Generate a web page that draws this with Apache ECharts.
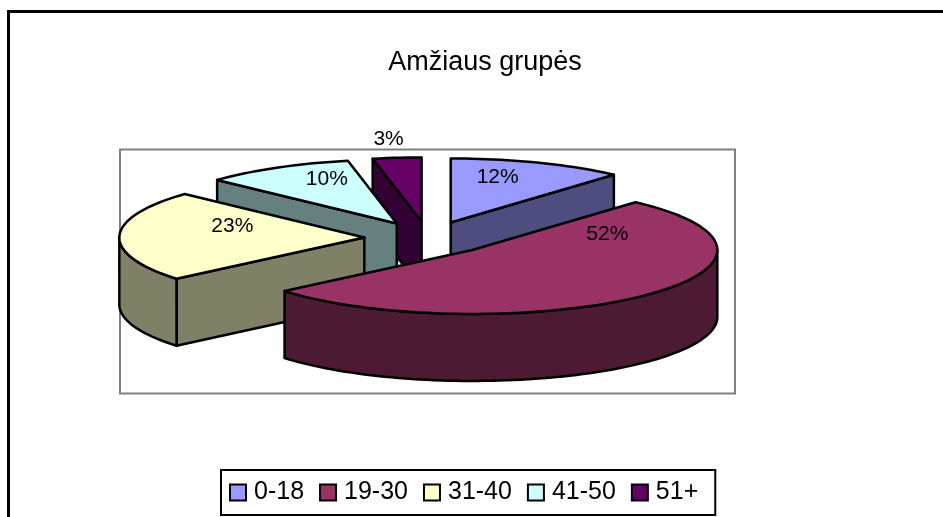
<!DOCTYPE html>
<html style="height: 100%">
<head>
    <meta charset="utf-8">
    <title>Amžiaus grupės</title>
    <script src="https://cdn.jsdelivr.net/npm/echarts@6/dist/echarts.min.js"></script>
</head>
<body style="height: 100%; margin: 0; background: #fff">
<div id="chart1" style="width: 943px; height: 517px"></div>

<script type="text/javascript">
    // data
    var chartTitle = 'Amžiaus grupės';
    var categories = ['0-18', '19-30', '31-40', '41-50', '51+'];
    var shares = [11.6, 52.3, 23.0, 9.9, 3.2];
    var topColors = ['#9999FF', '#993366', '#FFFFCC', '#CCFFFF', '#660066'];
    var sideColors = ['#4D4D80', '#4D1A33', '#808066', '#668080', '#330033'];

    // fake 3d pie geometry, echarts has no 3d pie without gl
    var cx = 428, cy = 238, rx = 245, ry = 64, depth = 67, explode = 0.26;
    // label offset from the tip of each slice
    var labelOffsets = [[47, -45], [135, -16], [-132, -11], [-70, -44], [-33, -82]];

    var total = shares.reduce(function (a, b) { return a + b; }, 0);
    var slices = [];
    var sum = 0;
    shares.forEach(function (v, i) {
        var t0 = sum / total * Math.PI * 2;
        sum += v;
        var t1 = sum / total * Math.PI * 2;
        var mid = (t0 + t1) / 2;
        slices.push({
            index: i, t0: t0, t1: t1, mid: mid,
            x: cx + explode * rx * Math.sin(mid),
            y: cy - explode * ry * Math.cos(mid)
        });
    });

    function rim(s, t, drop) {
        return [s.x + rx * Math.sin(t), s.y - ry * Math.cos(t) + drop];
    }

    function arc(s, a, b, drop) {
        var pts = [];
        var n = Math.max(2, Math.ceil((b - a) / 0.03));
        for (var k = 0; k <= n; k++) {
            pts.push(rim(s, a + (b - a) * k / n, drop));
        }
        return pts;
    }

    function poly(points, color) {
        return {
            type: 'polygon',
            shape: {points: points},
            style: {fill: color, stroke: '#000', lineWidth: 2.5, lineJoin: 'round'}
        };
    }

    function wall(s, t, color) {
        return poly([[s.x, s.y], rim(s, t, 0), rim(s, t, depth), [s.x, s.y + depth]], color);
    }

    function drawSlice(s) {
        var side = sideColors[s.index];
        var kids = [];
        if (Math.sin(s.t1) > 0.001) kids.push(wall(s, s.t1, side));
        if (Math.sin(s.t0) < -0.001) kids.push(wall(s, s.t0, side));
        // only the front part of the rim can be seen
        var a = Math.max(s.t0, Math.PI / 2);
        var b = Math.min(s.t1, Math.PI * 1.5);
        if (b > a) {
            kids.push(poly(arc(s, a, b, 0).concat(arc(s, a, b, depth).reverse()), side));
        }
        kids.push(poly([[s.x, s.y]].concat(arc(s, s.t0, s.t1, 0)), topColors[s.index]));
        var off = labelOffsets[s.index];
        kids.push({
            type: 'text',
            z2: 50,
            style: {
                x: s.x + off[0],
                y: s.y + off[1],
                text: Math.round(shares[s.index]) + '%',
                fill: '#000',
                font: '21px "Liberation Sans"',
                align: 'center',
                verticalAlign: 'middle'
            }
        });
        return {type: 'group', children: kids};
    }

    // back slices first so the front ones paint over them
    var drawOrder = slices.slice().sort(function (a, b) {
        return Math.cos(b.mid) - Math.cos(a.mid);
    });

    var series = drawOrder.map(function (s) {
        return {
            type: 'custom',
            name: categories[s.index],
            coordinateSystem: 'none',
            silent: true,
            itemStyle: {color: topColors[s.index], borderColor: '#000', borderWidth: 2},
            data: [[shares[s.index]]],
            renderItem: function () {
                return drawSlice(s);
            }
        };
    });

    var myChart1 = echarts.init(document.getElementById('chart1'));
    myChart1.setOption({
        animation: false,
        backgroundColor: '#fff',
        title: {
            text: chartTitle,
            left: 480,
            top: 44,
            textAlign: 'center',
            textStyle: {fontFamily: 'Liberation Sans', fontWeight: 'normal', fontSize: 27, color: '#000'}
        },
        legend: {
            data: categories,
            left: 221,
            top: 470,
            icon: 'rect',
            orient: 'horizontal',
            itemWidth: 16,
            itemHeight: 16,
            itemGap: 15,
            padding: [10, 17, 10, 8],
            borderColor: '#000',
            borderWidth: 2,
            backgroundColor: '#fff',
            selectedMode: false,
            textStyle: {fontFamily: 'Liberation Sans', fontSize: 25, color: '#000', padding: [0, 0, 0, 3]}
        },
        graphic: [
            {
                type: 'polyline',
                z: -1,
                silent: true,
                shape: {points: [[8.5, 517], [8.5, 11.5], [943, 11.5]]},
                style: {fill: null, stroke: '#000', lineWidth: 3}
            },
            {
                type: 'rect',
                z: -1,
                silent: true,
                shape: {x: 120, y: 149.5, width: 615, height: 244},
                style: {fill: null, stroke: '#808080', lineWidth: 2}
            }
        ],
        series: series
    });
</script>
</body>
</html>
